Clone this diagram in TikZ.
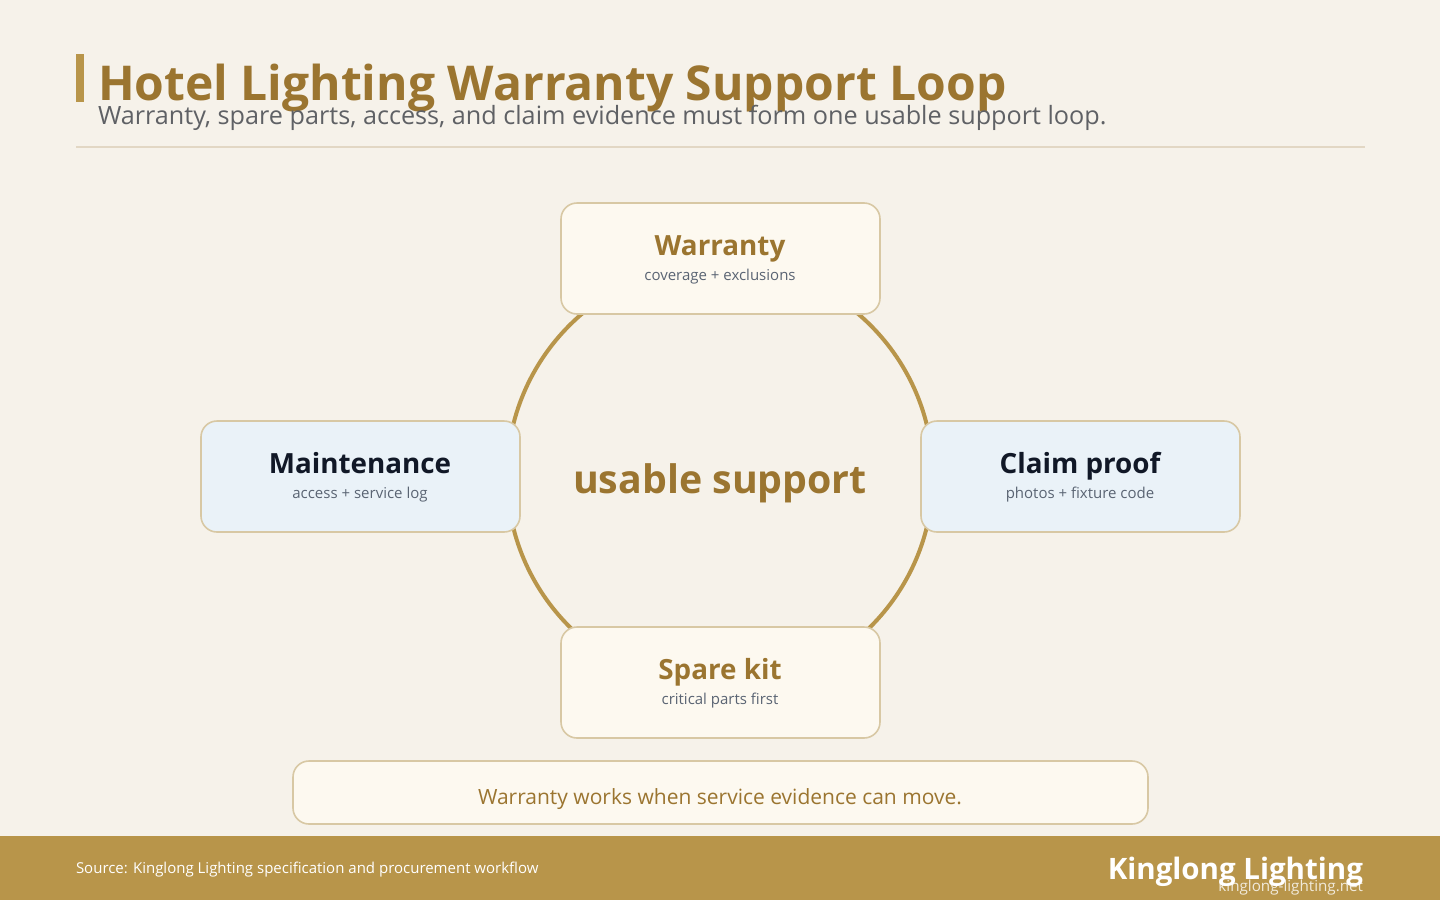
\documentclass[tikz,border=0pt]{standalone}
\usepackage{fontspec}
\setmainfont{Open Sans}
\usetikzlibrary{positioning}
\definecolor{pagebg}{HTML}{F6F2EA}
\definecolor{goldtxt}{HTML}{9B7530}
\definecolor{goldbar}{HTML}{B8954A}
\definecolor{edgeln}{HTML}{D8C8A4}
\definecolor{rulecol}{HTML}{E2D7C4}
\definecolor{creamfill}{HTML}{FDF9F0}
\definecolor{bluefill}{HTML}{EAF2F8}
\definecolor{subgray}{HTML}{5F6165}
\definecolor{notegray}{HTML}{5A6473}
\definecolor{inkdark}{HTML}{111827}
\newcommand\fsz[1]{\fontsize{#1}{#1}\selectfont}

\begin{document}
\begin{tikzpicture}[x=1pt,y=-1pt,inner sep=0pt,outer sep=0pt]
 \tikzset{card/.style={draw=edgeln,line width=1.6pt,rounded corners=16pt,minimum width=319pt,minimum height=111pt},
          warm/.style={card,fill=creamfill},
          cool/.style={card,fill=bluefill},
          head/.style={anchor=base,font=\fsz{27.8}\bfseries},
          note/.style={anchor=base,font=\fsz{15},text=notegray},
          ring/.style={draw=goldbar,line width=4pt}}
 % page and header
 \fill[pagebg] (0,0) rectangle (1440,900);
 \useasboundingbox (0,0) rectangle (1440,900);
 \fill[goldbar] (76,54) rectangle (84,102);
 \node[anchor=base west,font=\fsz{48}\bfseries,text=goldtxt] (title) at (98,100) {Hotel Lighting Warranty Support Loop};
 \node[anchor=base west,font=\fsz{25.2},text=subgray] (subtitle) at (98,124) {Warranty, spare parts, access, and claim evidence must form one usable support loop.};
 \draw[rulecol,line width=2pt] (76,147) -- (1365,147);
 % loop
 \coordinate (hub) at (720,476);
 \draw[ring] (hub) circle[radius=213];
 \node[anchor=base,font=\fsz{39.3}\bfseries,text=goldtxt] (ctr) at (720,493) {usable support};
 \node[warm] (war) at (720.5,258.5) {};
 \node[cool] (mnt) at (360.5,476.5) {};
 \node[cool] (clm) at (1080.5,476.5) {};
 \node[warm] (spr) at (720.5,682.5) {};
 \node[head,text=goldtxt] (war-h) at (720,255) {Warranty};
 \node[note] (war-n) at (720,280) {coverage + exclusions};
 \node[head,text=inkdark] (mnt-h) at (360,473) {Maintenance};
 \node[note] (mnt-n) at (360,498) {access + service log};
 \node[head,text=inkdark] (clm-h) at (1080,473) {Claim proof};
 \node[note] (clm-n) at (1080,498) {photos + fixture code};
 \node[head,text=goldtxt] (spr-h) at (720,679) {Spare kit};
 \node[note] (spr-n) at (720,704) {critical parts first};
 % takeaway
 \node[card,fill=creamfill,minimum width=855pt,minimum height=63pt] (take) at (720.5,792.5) {};
 \node[anchor=base,font=\fsz{21},text=goldtxt] (take-t) at (720,804) {Warranty works when service evidence can move.};
 % footer
 \fill[goldbar] (0,836) rectangle (1440,900);
 \node[anchor=base west,font=\fsz{15},text=white] (src) at (76,873) {Source: Kinglong Lighting specification and procurement workflow};
 \node[anchor=base east,font=\fsz{29.5}\bfseries,text=white] (brand) at (1363,879) {Kinglong Lighting};
 \node[anchor=base east,font=\fsz{15.2},text=white,text opacity=0.8] (url) at (1363,891) {kinglong-lighting.net};
\end{tikzpicture}
\end{document}
